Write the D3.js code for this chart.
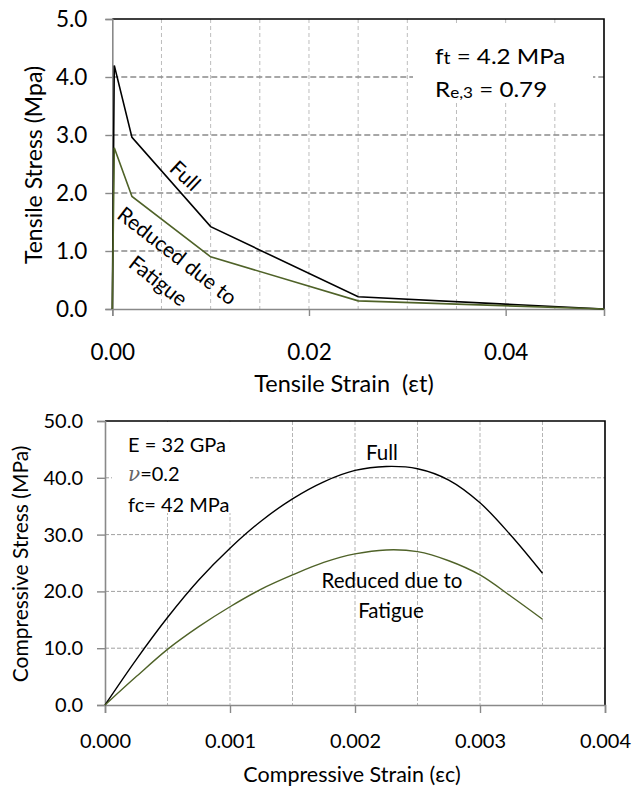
<!DOCTYPE html>
<html><head><meta charset="utf-8">
<script src="https://cdn.jsdelivr.net/npm/d3@7"></script>
<style>
body{margin:0;background:#fff;}
svg{display:block;font-family:Lato,"Open Sans",sans-serif;}
</style></head>
<body>
<svg id="c" width="633" height="789"></svg>
<script>
// ---------- data ----------
const tensStrain   = [0, 0.0002, 0.002, 0.01, 0.025, 0.05];
const tensFull     = [0, 4.2, 2.96, 1.42, 0.21, 0];
const tensReduced  = [0, 2.78, 1.94, 0.90, 0.14, 0];
const tensYTicks   = [0, 1, 2, 3, 4, 5];
const tensXTicks   = [0, 0.02, 0.04];
const tensXGrid    = [0.005, 0.01, 0.015, 0.02, 0.025, 0.03, 0.035, 0.04, 0.045];

const compStrain   = [0, 0.00025, 0.0005, 0.00075, 0.001, 0.00125, 0.0015, 0.00175, 0.002, 0.00225, 0.0025, 0.00275, 0.003, 0.00325, 0.0035];
const compFull     = [0, 8.0, 15.4, 22.0, 27.6, 32.4, 36.3, 39.3, 41.3, 42.0, 41.6, 39.6, 35.6, 29.8, 23.2];
const compReduced  = [0, 5.0, 9.8, 13.8, 17.3, 20.4, 22.9, 25.1, 26.6, 27.3, 27.0, 25.4, 22.9, 19.1, 15.1];
const compYTicks   = [0, 10, 20, 30, 40, 50];
const compXTicks   = [0, 0.001, 0.002, 0.003, 0.004];
const compXGrid    = [0.0005, 0.001, 0.0015, 0.002, 0.0025, 0.003, 0.0035];

const svg = d3.select("#c");
const AXIS = "#898989", GREEN = "#4F6228";

// ---------- top chart ----------
const xT = d3.scaleLinear().domain([0, 0.05]).range([112.3, 604]);
const yT = d3.scaleLinear().domain([0, 5]).range([309, 19]);
const gT = svg.append("g");

gT.selectAll("line.vg").data(tensXGrid).join("line")
  .attr("x1", d => xT(d)).attr("x2", d => xT(d)).attr("y1", yT(5)).attr("y2", yT(0))
  .attr("stroke", "#bdbdbd").attr("stroke-width", 1).attr("stroke-dasharray", "4,3");
gT.selectAll("line.hg").data(tensYTicks.filter(d => d > 0 && d < 5)).join("line")
  .attr("x1", xT(0)).attr("x2", xT(0.05)).attr("y1", d => yT(d)).attr("y2", d => yT(d))
  .attr("stroke", "#8a8a8a").attr("stroke-width", 1.4).attr("stroke-dasharray", "6,3");

// annotation box (white, covers grid)
gT.append("rect").attr("x", 413).attr("y", 23).attr("width", 180).attr("height", 77).attr("fill", "#fff");

// borders
gT.append("path").attr("d", `M${xT(0)},${yT(5)}H${xT(0.05)}V${yT(0)}`)
  .attr("fill", "none").attr("stroke", "#000").attr("stroke-width", 1.6);

const yAxT = gT.append("g").attr("transform", `translate(${xT(0)},0)`)
  .call(d3.axisLeft(yT).tickValues(tensYTicks).tickFormat(d3.format(".1f")).tickSize(7).tickPadding(18));
const xAxT = gT.append("g").attr("transform", `translate(0,${yT(0)})`)
  .call(d3.axisBottom(xT).tickValues(tensXTicks).tickFormat(d3.format(".2f")).tickSize(7).tickPadding(28));
[yAxT, xAxT].forEach(a => {
  a.select(".domain").attr("stroke", AXIS).attr("stroke-width", 1.6);
  a.selectAll(".tick line").attr("stroke", AXIS).attr("stroke-width", 1.4);
  a.selectAll("text").attr("font-size", 22.5).attr("fill", "#000").attr("font-family", "Lato");
});

const lineT = d3.line().x(d => xT(d[0])).y(d => yT(d[1]));
gT.append("path").datum(d3.zip(tensStrain, tensFull)).attr("d", lineT)
  .attr("fill", "none").attr("stroke", "#000").attr("stroke-width", 1.6);
gT.append("path").datum(d3.zip(tensStrain, tensReduced)).attr("d", lineT)
  .attr("fill", "none").attr("stroke", GREEN).attr("stroke-width", 1.6);

// titles
gT.append("text").attr("transform", "translate(42,165) rotate(-90)").attr("text-anchor", "middle")
  .attr("font-size", 23).text("Tensile Stress (Mpa)");
gT.append("text").attr("x", 344).attr("y", 391.5).attr("text-anchor", "middle")
  .attr("font-size", 23.5).attr("xml:space", "preserve").text("Tensile Strain  (εt)");

// annotations
const a1 = gT.append("text").attr("transform", "translate(435,63.5) scale(1.18,1)").attr("font-size", 20.5);
a1.append("tspan").text("f");
a1.append("tspan").attr("font-size", 16.5).text("t");
a1.append("tspan").text(" = 4.2 MPa");
const a2 = gT.append("text").attr("transform", "translate(435,96.5) scale(1.18,1)").attr("font-size", 20.5);
a2.append("tspan").text("R");
a2.append("tspan").attr("font-size", 14.5).attr("dy", 1.5).text("e,3");
a2.append("tspan").attr("dy", -1.5).text(" = 0.79");

gT.append("text").attr("transform", "translate(186,175) rotate(43)").attr("text-anchor", "middle")
  .attr("dominant-baseline", "central").attr("font-size", 21).text("Full");
gT.append("text").attr("transform", "translate(178,255) rotate(38)").attr("text-anchor", "middle")
  .attr("dominant-baseline", "central").attr("font-size", 21).text("Reduced due to");
gT.append("text").attr("transform", "translate(159,280) rotate(38)").attr("text-anchor", "middle")
  .attr("dominant-baseline", "central").attr("font-size", 21).text("Fatigue");

// ---------- bottom chart ----------
const xB = d3.scaleLinear().domain([0, 0.004]).range([105, 605]);
const yB = d3.scaleLinear().domain([0, 50]).range([705, 421]);
const gB = svg.append("g");

gB.selectAll("line.vg").data(compXGrid).join("line")
  .attr("x1", d => xB(d)).attr("x2", d => xB(d)).attr("y1", yB(50)).attr("y2", yB(0))
  .attr("stroke", "#b5b5b5").attr("stroke-width", 1).attr("stroke-dasharray", "4,2");
gB.selectAll("line.hg").data(compYTicks.filter(d => d > 0 && d < 50)).join("line")
  .attr("x1", xB(0)).attr("x2", xB(0.004)).attr("y1", d => yB(d)).attr("y2", d => yB(d))
  .attr("stroke", "#a0a0a0").attr("stroke-width", 1).attr("stroke-dasharray", "4,2");

gB.append("rect").attr("x", 112).attr("y", 422).attr("width", 138).attr("height", 91).attr("fill", "#fff");

gB.append("path").attr("d", `M${xB(0)},${yB(50)}H${xB(0.004)}V${yB(0)}`)
  .attr("fill", "none").attr("stroke", "#000").attr("stroke-width", 1.6);

const yAxB = gB.append("g").attr("transform", `translate(${xB(0)},0)`)
  .call(d3.axisLeft(yB).tickValues(compYTicks).tickFormat(d3.format(".1f")).tickSize(8).tickPadding(14));
const xAxB = gB.append("g").attr("transform", `translate(0,${yB(0)})`)
  .call(d3.axisBottom(xB).tickValues(compXTicks).tickFormat(d3.format(".3f")).tickSize(8).tickPadding(21));
[yAxB, xAxB].forEach(a => {
  a.select(".domain").attr("stroke", AXIS).attr("stroke-width", 1.6);
  a.selectAll(".tick line").attr("stroke", AXIS).attr("stroke-width", 1.4);
  a.selectAll("text").attr("font-size", 20).attr("fill", "#000").attr("font-family", "Lato");
});

const lineB = d3.line().x(d => xB(d[0])).y(d => yB(d[1])).curve(d3.curveCatmullRom);
gB.append("path").datum(d3.zip(compStrain, compFull)).attr("d", lineB)
  .attr("fill", "none").attr("stroke", "#000").attr("stroke-width", 1.4);
gB.append("path").datum(d3.zip(compStrain, compReduced)).attr("d", lineB)
  .attr("fill", "none").attr("stroke", GREEN).attr("stroke-width", 1.4);

gB.append("text").attr("transform", "translate(28,564) rotate(-90)").attr("text-anchor", "middle")
  .attr("font-size", 21).text("Compressive Stress (MPa)");
gB.append("text").attr("x", 352).attr("y", 781.5).attr("text-anchor", "middle")
  .attr("font-size", 21.5).text("Compressive Strain (εc)");

gB.append("text").attr("x", 128).attr("y", 452).attr("font-size", 20).text("E = 32 GPa");
const nu = gB.append("text").attr("x", 128).attr("y", 481).attr("font-size", 20);
nu.append("tspan").attr("font-family", "DejaVu Serif").attr("font-style", "italic").attr("fill", "#666").text("ν");
nu.append("tspan").text("=0.2");
gB.append("text").attr("x", 128).attr("y", 512).attr("font-size", 20).text("fc= 42 MPa");

gB.append("text").attr("x", 382).attr("y", 460).attr("text-anchor", "middle").attr("font-size", 20.5).text("Full");
gB.append("text").attr("x", 392).attr("y", 588).attr("text-anchor", "middle").attr("font-size", 20.5).text("Reduced due to");
gB.append("text").attr("x", 391).attr("y", 618).attr("text-anchor", "middle").attr("font-size", 20.5).text("Fatigue");
</script>
</body></html>
